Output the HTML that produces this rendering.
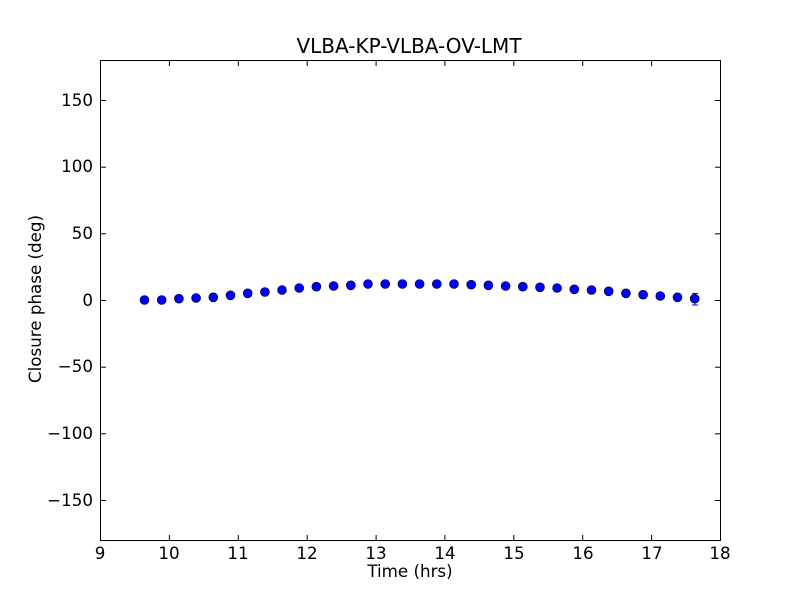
<!DOCTYPE html>
<html><head><meta charset="utf-8"><style>body{margin:0;background:#fff}svg{display:block}text{font-family:"DejaVu Sans","Liberation Sans",sans-serif;fill:#000}</style></head>
<body>
<svg width="800" height="600" viewBox="0 0 800 600" xmlns="http://www.w3.org/2000/svg">
<rect width="800" height="600" fill="#fff"/>
<text x="409" y="53" font-size="20" text-anchor="middle">VLBA-KP-VLBA-OV-LMT</text>
<g stroke="#0000ff" stroke-width="1">
<line x1="695" y1="293.4" x2="695" y2="305"/><line x1="692" y1="293.4" x2="698" y2="293.4"/><line x1="692" y1="305" x2="698" y2="305"/>
</g>
<g fill="#0000ff" stroke="#000" stroke-width="0.6">
<circle cx="144.5" cy="300" r="4.5"/><circle cx="161.7" cy="300" r="4.5"/><circle cx="178.9" cy="298.7" r="4.5"/><circle cx="196.1" cy="298" r="4.5"/><circle cx="213.3" cy="297.3" r="4.5"/><circle cx="230.5" cy="295.3" r="4.5"/><circle cx="247.7" cy="293.3" r="4.5"/><circle cx="264.9" cy="292" r="4.5"/><circle cx="282" cy="290" r="4.5"/><circle cx="299.2" cy="288" r="4.5"/><circle cx="316.4" cy="286.7" r="4.5"/><circle cx="333.6" cy="286" r="4.5"/><circle cx="350.8" cy="285.3" r="4.5"/><circle cx="368" cy="284" r="4.5"/><circle cx="385.2" cy="284" r="4.5"/><circle cx="402.4" cy="284" r="4.5"/><circle cx="419.6" cy="284" r="4.5"/><circle cx="436.8" cy="284" r="4.5"/><circle cx="454" cy="284" r="4.5"/><circle cx="471.2" cy="284.7" r="4.5"/><circle cx="488.4" cy="285.3" r="4.5"/><circle cx="505.6" cy="286" r="4.5"/><circle cx="522.8" cy="286.7" r="4.5"/><circle cx="540" cy="287.3" r="4.5"/><circle cx="557.1" cy="288" r="4.5"/><circle cx="574.3" cy="289.3" r="4.5"/><circle cx="591.5" cy="290" r="4.5"/><circle cx="608.7" cy="291.3" r="4.5"/><circle cx="625.9" cy="293.3" r="4.5"/><circle cx="643.1" cy="294.7" r="4.5"/><circle cx="660.3" cy="296" r="4.5"/><circle cx="677.5" cy="297.3" r="4.5"/><circle cx="694.7" cy="298.7" r="4.5"/>
</g>
<rect x="100.5" y="60.5" width="620" height="480" fill="none" stroke="#000" stroke-width="1"/>
<g stroke="#000" stroke-width="1">
<line x1="169.4" y1="540" x2="169.4" y2="535"/><line x1="238.3" y1="540" x2="238.3" y2="535"/><line x1="307.2" y1="540" x2="307.2" y2="535"/><line x1="376.1" y1="540" x2="376.1" y2="535"/><line x1="444.9" y1="540" x2="444.9" y2="535"/><line x1="513.8" y1="540" x2="513.8" y2="535"/><line x1="582.7" y1="540" x2="582.7" y2="535"/><line x1="651.6" y1="540" x2="651.6" y2="535"/>
<line x1="169.4" y1="61" x2="169.4" y2="66"/><line x1="238.3" y1="61" x2="238.3" y2="66"/><line x1="307.2" y1="61" x2="307.2" y2="66"/><line x1="376.1" y1="61" x2="376.1" y2="66"/><line x1="444.9" y1="61" x2="444.9" y2="66"/><line x1="513.8" y1="61" x2="513.8" y2="66"/><line x1="582.7" y1="61" x2="582.7" y2="66"/><line x1="651.6" y1="61" x2="651.6" y2="66"/>
<line x1="101" y1="100.5" x2="106" y2="100.5"/><line x1="101" y1="167.2" x2="106" y2="167.2"/><line x1="101" y1="233.8" x2="106" y2="233.8"/><line x1="101" y1="300.5" x2="106" y2="300.5"/><line x1="101" y1="367.2" x2="106" y2="367.2"/><line x1="101" y1="433.8" x2="106" y2="433.8"/><line x1="101" y1="500.5" x2="106" y2="500.5"/>
<line x1="720" y1="100.5" x2="715" y2="100.5"/><line x1="720" y1="167.2" x2="715" y2="167.2"/><line x1="720" y1="233.8" x2="715" y2="233.8"/><line x1="720" y1="300.5" x2="715" y2="300.5"/><line x1="720" y1="367.2" x2="715" y2="367.2"/><line x1="720" y1="433.8" x2="715" y2="433.8"/><line x1="720" y1="500.5" x2="715" y2="500.5"/>
</g>
<g font-size="16.7" text-anchor="middle">
<text x="100" y="559">9</text><text x="169" y="559">10</text><text x="238" y="559">11</text><text x="307" y="559">12</text><text x="376" y="559">13</text><text x="445" y="559">14</text><text x="514" y="559">15</text><text x="583" y="559">16</text><text x="652" y="559">17</text><text x="720" y="559">18</text>
</g>
<g font-size="16.7" text-anchor="end">
<text x="93" y="106">150</text><text x="93" y="172">100</text><text x="93" y="239">50</text><text x="93" y="306">0</text><text x="93" y="372">−50</text><text x="93" y="439">−100</text><text x="93" y="506">−150</text>
</g>
<text x="410" y="577" font-size="16.7" text-anchor="middle">Time (hrs)</text>
<text x="41" y="299" font-size="16.7" text-anchor="middle" transform="rotate(-90 41 299)">Closure phase (deg)</text>
</svg>
</body></html>
